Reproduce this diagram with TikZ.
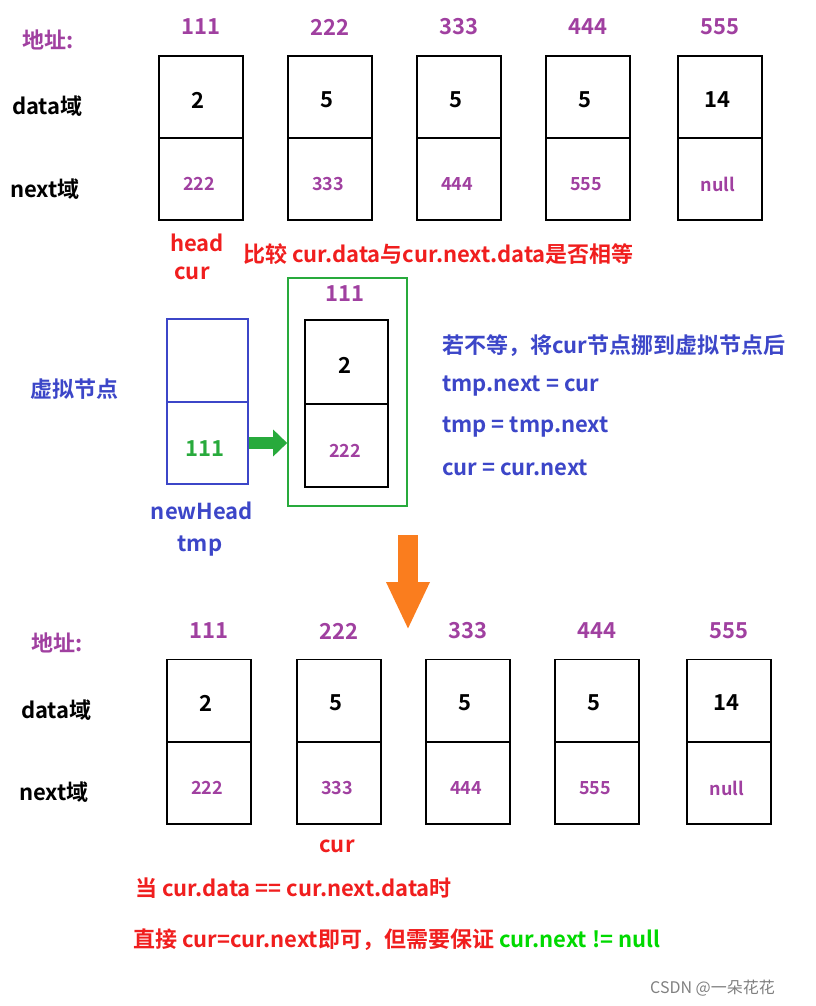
\documentclass[tikz,border=0pt]{standalone}
\usepackage{fontspec}
\setmainfont{Noto Sans CJK SC}[BoldFont={Noto Sans CJK SC Bold}]
\usetikzlibrary{positioning,arrows.meta}
\definecolor{addr}{RGB}{160,64,160}
\definecolor{myred}{RGB}{240,30,30}
\definecolor{myblue}{RGB}{60,70,200}
\definecolor{mygreen}{RGB}{40,170,60}
\definecolor{myorange}{RGB}{250,125,30}
\begin{document}
\begin{tikzpicture}[x=1pt,y=-1pt,
    txt/.style={font=\fontsize{22}{26}\selectfont\bfseries,inner sep=0pt},
    small/.style={font=\fontsize{18}{22}\selectfont\bfseries,inner sep=0pt},
    cell/.style={draw,line width=1.6pt,minimum width=84pt,minimum height=82pt,inner sep=0pt}]
  \useasboundingbox (0,0) rectangle (816,1006);
  % top list
  \node[txt,addr,anchor=west] (t1) at (22,40) {地址:};
  \node[txt,anchor=west] (t2) at (12,106) {data域};
  \node[txt,anchor=west] (t3) at (10,189) {next域};
  \foreach \x/\a/\d/\n [count=\i] in {201/111/2/222,330/222/5/333,459/333/5/444,588/444/5/555,720/555/14/null}{
    \node[cell] (td\i) at (\x,97) {};
    \node[cell] (tn\i) at (\x,179) {};
    \node[txt,addr] at (\x,27) {\a};
    \node[txt] at (\x-3,100) {\d};
    \node[small,addr] at (\x-2,184) {\n};
  }
  \node[txt,myred] (head) at (197,243) {head};
  \node[txt,myred] (cur1) at (192,273) {cur};
  \node[txt,myred,anchor=west] (cmp) at (243,254) {比较 cur.data与cur.next.data是否相等};
  % virtual node
  \node[txt,myblue,anchor=west] (vn) at (30,389) {虚拟节点};
  \node[cell,draw=myblue,minimum width=81pt,minimum height=83pt] (vd) at (207.5,360.5) {};
  \node[cell,draw=myblue,minimum width=81pt,minimum height=82pt] (vnx) at (207.5,443) {};
  \node[txt,mygreen] at (205,449) {111};
  \node[txt,myblue] (nh) at (202,511) {newHead};
  \node[txt,myblue] (tmp) at (200,546) {tmp};
  \node[draw=mygreen,line width=1.6pt,minimum width=119pt,minimum height=228pt,inner sep=0pt] (grp) at (347.5,392) {};
  \node[txt,addr] at (345,294) {111};
  \node[cell,minimum width=83pt,minimum height=84pt] (gd) at (346.5,362) {};
  \node[cell,minimum width=83pt,minimum height=83pt] (gn) at (346.5,445.5) {};
  \node[txt] at (345,365) {2};
  \node[small,addr] at (345,451) {222};
  \draw[-{Triangle[length=14pt,width=26pt]},line width=12pt,mygreen] (vnx.east) -- (grp.west |- vnx.east);
  \node[txt,myblue,anchor=west] (s1) at (442,346) {若不等，将cur节点挪到虚拟节点后};
  \node[txt,myblue,anchor=west] (s2) at (442,386) {tmp.next = cur};
  \node[txt,myblue,anchor=west] (s3) at (442,427) {tmp = tmp.next};
  \node[txt,myblue,anchor=west] (s4) at (442,468) {cur = cur.next};
  \coordinate (oa) at (408,535);
  \coordinate (ob) at (408,630);
  \draw[-{Triangle[length=48pt,width=40pt]},line width=20pt,myorange] (oa) -- (ob);
  % bottom list
  \node[txt,addr,anchor=west] (b1) at (31,643) {地址:};
  \node[txt,anchor=west] (b2) at (21,710) {data域};
  \node[txt,anchor=west] (b3) at (19,792) {next域};
  \foreach \x/\a/\d/\n [count=\i] in {209/111/2/222,339/222/5/333,468/333/5/444,597/444/5/555,729/555/14/null}{
    \node[cell] (bd\i) at (\x,700.5) {};
    \node[cell] (bn\i) at (\x,783) {};
    \node[txt,addr] at (\x,631) {\a};
    \node[txt] at (\x-3,703) {\d};
    \node[small,addr] at (\x-2,788) {\n};
  }
  \node[txt,myred] (cur2) at (337,846) {cur};
  \node[txt,myred,anchor=west] (r1) at (135,888) {当 cur.data == cur.next.data时};
  \node[txt,anchor=west] (r2) at (133,940) {\textcolor{myred}{直接 cur=cur.next即可，但需要保证} \textcolor{green!85!black}{cur.next != null}};
  \node[gray,anchor=west,font=\fontsize{16}{19}\selectfont,inner sep=0pt] (wm) at (650,988) {CSDN @一朵花花};
\end{tikzpicture}
\end{document}
